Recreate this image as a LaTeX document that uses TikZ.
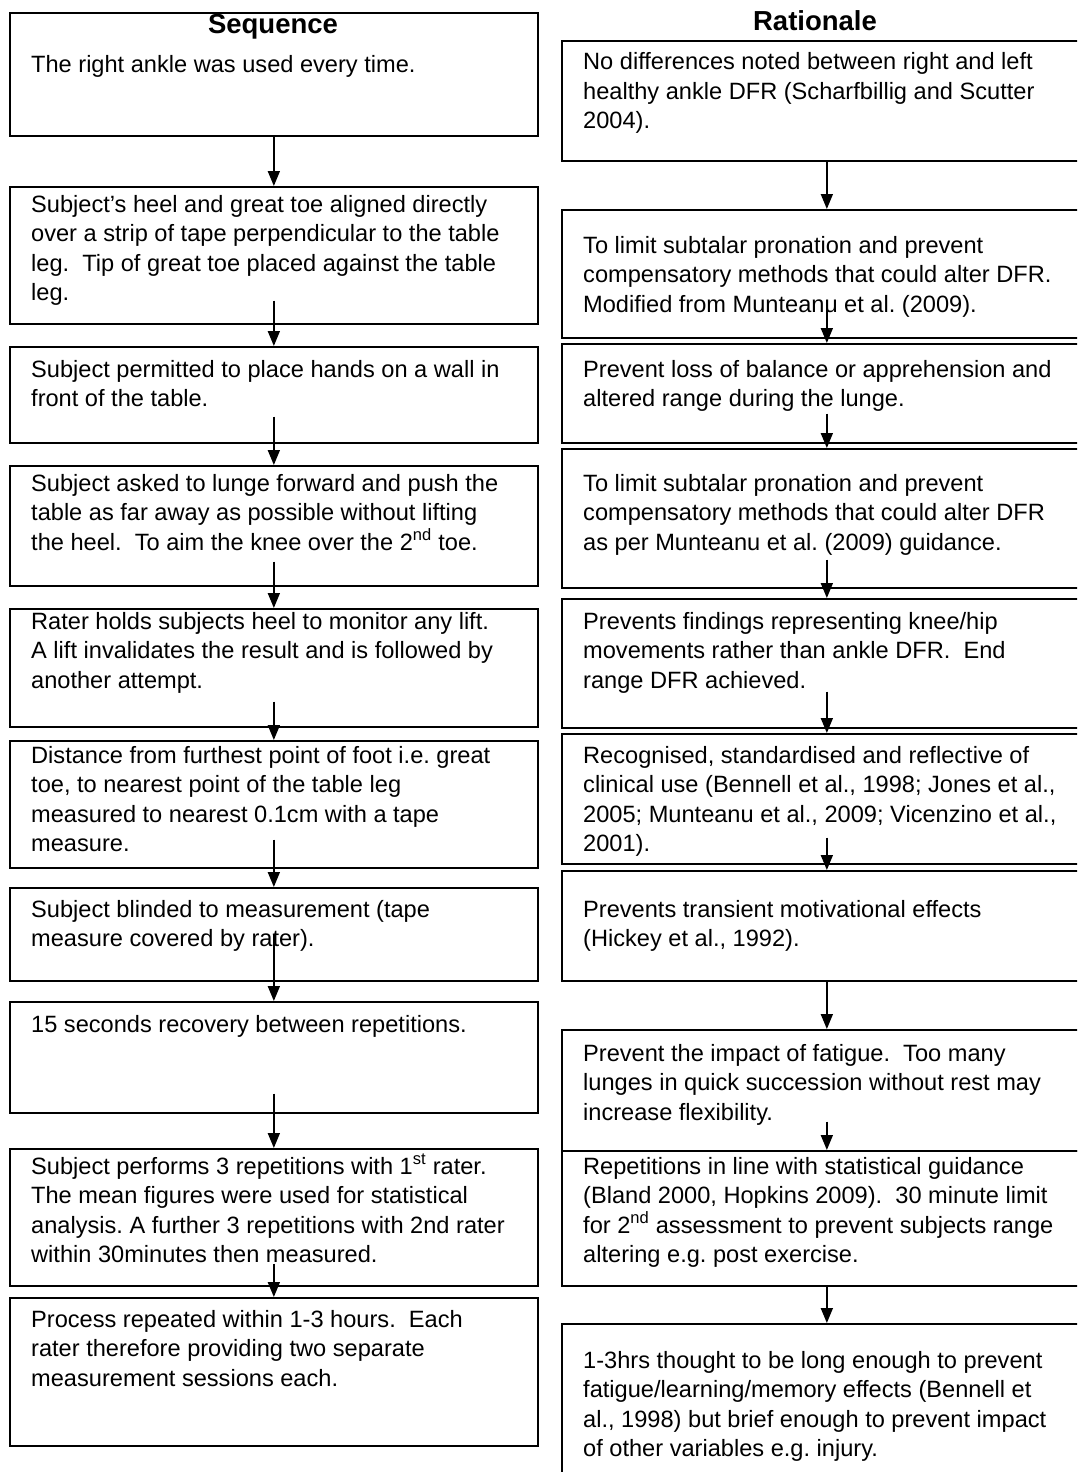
\documentclass[tikz,border=0pt]{standalone}
\usepackage{fontspec}
\setmainfont{Liberation Sans}
\usetikzlibrary{arrows.meta}
\frenchspacing
\begin{document}
\begin{tikzpicture}[x=1pt,y=-1pt,
  box/.style={draw, line width=1.7pt, inner sep=0pt, anchor=north west},
  lbox/.style={box, minimum width=528pt},
  rbox/.style={box, minimum width=530pt},
  txt/.style={anchor=base west, inner sep=0pt, font=\fontsize{23.6}{29.5}\selectfont},
  ttl/.style={inner sep=0pt, font=\bfseries\fontsize{27.5}{33}\selectfont},
  arr/.style={line width=1.7pt, -{Triangle[length=15pt,width=12pt]}}]
\useasboundingbox (0,0) rectangle (1077,1472);
\clip (0,0) rectangle (1077,1472);
\fill[white] (0,0) rectangle (1077,1472);

% left boxes
\node[lbox, minimum height=123pt] (L1) at (9,12) {};
\node[lbox, minimum height=137pt] (L2) at (9,186) {};
\node[lbox, minimum height=96pt] (L3) at (9,346) {};
\node[lbox, minimum height=120pt] (L4) at (9,465) {};
\node[lbox, minimum height=118pt] (L5) at (9,608) {};
\node[lbox, minimum height=127pt] (L6) at (9,740) {};
\node[lbox, minimum height=93pt] (L7) at (9,887) {};
\node[lbox, minimum height=111pt] (L8) at (9,1001) {};
\node[lbox, minimum height=137pt] (L9) at (9,1148) {};
\node[lbox, minimum height=148pt] (L10) at (9,1297) {};

% right boxes
\node[rbox, minimum height=120pt] (R1) at (561,40) {};
\node[rbox, minimum height=128pt] (R2) at (561,209) {};
\node[rbox, minimum height=99pt] (R3) at (561,343) {};
\node[rbox, minimum height=139pt] (R4) at (561,448) {};
\node[rbox, minimum height=129pt] (R5) at (561,598) {};
\node[rbox, minimum height=130pt] (R6) at (561,733) {};
\node[rbox, minimum height=110pt] (R7) at (561,870) {};
\node[rbox, minimum height=121pt] (R8) at (561,1029) {};
\node[rbox, minimum height=135pt] (R9) at (561,1150) {};
\node[rbox, minimum height=160pt] (R10) at (561,1323) {};

% titles
\node[ttl] (seq) at (273,27) {Sequence};
\node[ttl] (rat) at (815,21) {Rationale};

% left texts
\node[txt] (tL1) at (31,72) {\parbox[t]{520pt}{\raggedright The right ankle was used every time.}};
\node[txt] (tL2) at (31,212) {\parbox[t]{520pt}{\raggedright Subject’s heel and great toe aligned directly\\over a strip of tape perpendicular to the table\\leg.\ \ Tip of great toe placed against the table\\leg.}};
\node[txt] (tL3) at (31,377) {\parbox[t]{520pt}{\raggedright Subject permitted to place hands on a wall in\\front of the table.}};
\node[txt] (tL4) at (31,491) {\parbox[t]{520pt}{\raggedright Subject asked to lunge forward and push the\\table as far away as possible without lifting\\the heel.\ \ To aim the knee over the 2\textsuperscript{nd} toe.}};
\node[txt] (tL5) at (31,629) {\parbox[t]{520pt}{\raggedright Rater holds subjects heel to monitor any lift.\\A lift invalidates the result and is followed by\\another attempt.}};
\node[txt] (tL6) at (31,763) {\parbox[t]{520pt}{\raggedright Distance from furthest point of foot i.e. great\\toe, to nearest point of the table leg\\measured to nearest 0.1cm with a tape\\measure.}};
\node[txt] (tL7) at (31,917) {\parbox[t]{520pt}{\raggedright Subject blinded to measurement (tape\\measure covered by rater).}};
\node[txt] (tL8) at (31,1032) {\parbox[t]{520pt}{\raggedright 15 seconds recovery between repetitions.}};
\node[txt] (tL9) at (31,1174) {\parbox[t]{520pt}{\raggedright Subject performs 3 repetitions with 1\textsuperscript{st} rater.\\The mean figures were used for statistical\\analysis. A further 3 repetitions with 2nd rater\\within 30minutes then measured.}};
\node[txt] (tL10) at (31,1327) {\parbox[t]{520pt}{\raggedright Process repeated within 1-3 hours.\ \ Each\\rater therefore providing two separate\\measurement sessions each.}};

% right texts
\node[txt] (tR1) at (583,70) {\parbox[t]{520pt}{\raggedright No differences noted between right and left\\healthy ankle DFR (Scharfbillig and Scutter\\2004).}};
\node[txt] (tR2) at (583,253) {\parbox[t]{520pt}{\raggedright To limit subtalar pronation and prevent\\compensatory methods that could alter DFR.\\Modified from Munteanu et al. (2009).}};
\node[txt] (tR3) at (583,377) {\parbox[t]{520pt}{\raggedright Prevent loss of balance or apprehension and\\altered range during the lunge.}};
\node[txt] (tR4) at (583,491) {\parbox[t]{520pt}{\raggedright To limit subtalar pronation and prevent\\compensatory methods that could alter DFR\\as per Munteanu et al. (2009) guidance.}};
\node[txt] (tR5) at (583,629) {\parbox[t]{520pt}{\raggedright Prevents findings representing knee/hip\\movements rather than ankle DFR.\ \ End\\range DFR achieved.}};
\node[txt] (tR6) at (583,763) {\parbox[t]{520pt}{\raggedright Recognised, standardised and reflective of\\clinical use (Bennell et al., 1998; Jones et al.,\\2005; Munteanu et al., 2009; Vicenzino et al.,\\2001).}};
\node[txt] (tR7) at (583,917) {\parbox[t]{520pt}{\raggedright Prevents transient motivational effects\\(Hickey et al., 1992).}};
\node[txt] (tR8) at (583,1061) {\parbox[t]{520pt}{\raggedright Prevent the impact of fatigue.\ \ Too many\\lunges in quick succession without rest may\\increase flexibility.}};
\node[txt] (tR9) at (583,1174) {\parbox[t]{520pt}{\raggedright Repetitions in line with statistical guidance\\(Bland 2000, Hopkins 2009).\ \ 30 minute limit\\for 2\textsuperscript{nd} assessment to prevent subjects range\\altering e.g. post exercise.}};
\node[txt] (tR10) at (583,1368) {\parbox[t]{520pt}{\raggedright 1-3hrs thought to be long enough to prevent\\fatigue/learning/memory effects (Bennell et\\al., 1998) but brief enough to prevent impact\\of other variables e.g. injury.}};

% left arrows
\draw[arr] (L1.south) -- (L2.north);
\draw[arr] ([yshift=24pt]L2.south) -- (L3.north);
\draw[arr] ([yshift=27pt]L3.south) -- (L4.north);
\draw[arr] ([yshift=25pt]L4.south) -- (L5.north);
\draw[arr] ([yshift=26pt]L5.south) -- (L6.north);
\draw[arr] ([yshift=29pt]L6.south) -- (L7.north);
\draw[arr] ([yshift=48pt]L7.south) -- (L8.north);
\draw[arr] ([yshift=20pt]L8.south) -- (L9.north);
\draw[arr] ([yshift=23pt]L9.south) -- (L10.north);

% right arrows
\draw[arr] (R1.south) -- (R2.north);
\draw[arr] ([yshift=39pt]R2.south) -- (R3.north);
\draw[arr] ([yshift=30pt]R3.south) -- (R4.north);
\draw[arr] ([yshift=29pt]R4.south) -- (R5.north);
\draw[arr] ([yshift=37pt]R5.south) -- (R6.north);
\draw[arr] ([yshift=27pt]R6.south) -- (R7.north);
\draw[arr] (R7.south) -- (R8.north);
\draw[arr] ([yshift=30pt]R8.south) -- (R9.north);
\draw[arr] (R9.south) -- (R10.north);
\end{tikzpicture}
\end{document}
